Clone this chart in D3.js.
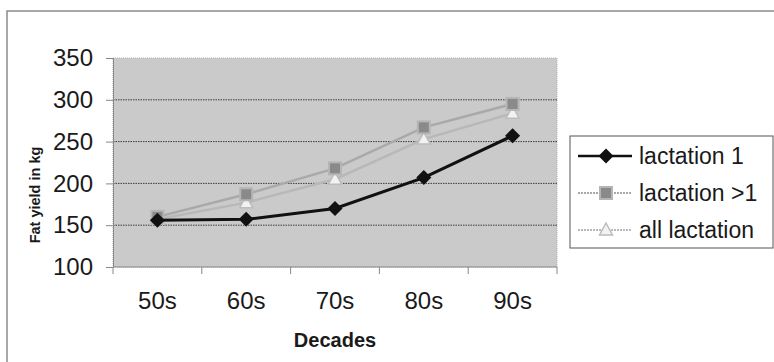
<!DOCTYPE html>
<html>
<head>
<meta charset="utf-8">
<script src="https://cdn.jsdelivr.net/npm/d3@7"></script>
<style>
  body { margin: 0; background: #ffffff; }
  svg { display: block; font-family: Arial, "Liberation Sans", sans-serif; }
</style>
</head>
<body>
<div id="chart"></div>
<script>
// Chart data
const decades = ["50s", "60s", "70s", "80s", "90s"];
const lactation1 = [156, 157, 170, 207, 257];
const lactationGt1 = [160, 187, 218, 267, 295];
const allLactation = [157, 177, 205, 253, 284];
const yTicks = [100, 150, 200, 250, 300, 350];
const seriesNames = ["lactation 1", "lactation >1", "all lactation"];

const width = 774;
const height = 362;
const plot = { left: 113, right: 557, top: 58, bottom: 267 };

const svg = d3
  .select("#chart")
  .append("svg")
  .attr("width", width)
  .attr("height", height);

// Outer chart frame (runs off the right and bottom edges)
svg
  .append("path")
  .attr("d", `M7,${height + 2} L7,11 L${width + 2},11`)
  .attr("fill", "none")
  .attr("stroke", "#8c8c8c")
  .attr("stroke-width", 1.5);

const x = d3
  .scaleBand()
  .domain(decades)
  .range([plot.left, plot.right]);

const y = d3
  .scaleLinear()
  .domain([100, 350])
  .range([plot.bottom, plot.top]);

// Grey plot area
svg
  .append("rect")
  .attr("x", plot.left)
  .attr("y", plot.top)
  .attr("width", plot.right - plot.left)
  .attr("height", plot.bottom - plot.top)
  .attr("fill", "#cacaca")
  .attr("stroke", "#b0b0b0")
  .attr("stroke-dasharray", "1 1");

// Horizontal gridlines
svg
  .append("g")
  .selectAll("line")
  .data(yTicks.filter((d) => d > 100 && d < 350))
  .enter()
  .append("line")
  .attr("x1", plot.left)
  .attr("x2", plot.right)
  .attr("y1", (d) => y(d))
  .attr("y2", (d) => y(d))
  .attr("stroke", "#3a3a3a")
  .attr("stroke-width", 1)
  .attr("stroke-dasharray", "1.5 1");

// Y axis
const yAxis = svg
  .append("g")
  .attr("transform", `translate(${plot.left},0)`)
  .call(d3.axisLeft(y).tickValues(yTicks).tickSize(7).tickPadding(13));
yAxis.select(".domain").attr("stroke", "#888");
yAxis.selectAll(".tick line").attr("stroke", "#888");
yAxis
  .selectAll("text")
  .attr("font-size", "24px")
  .attr("fill", "#1a1a1a")
  .attr("font-family", "Arial, 'Liberation Sans', sans-serif");

// X axis: ticks at category boundaries
const xAxis = svg
  .append("g")
  .attr("transform", `translate(0,${plot.bottom})`);
xAxis
  .append("line")
  .attr("x1", plot.left)
  .attr("x2", plot.right)
  .attr("stroke", "#888");
xAxis
  .selectAll("line.tick")
  .data(decades.concat([null]))
  .enter()
  .append("line")
  .attr("class", "tick")
  .attr("x1", (d) => (d ? x(d) : plot.right))
  .attr("x2", (d) => (d ? x(d) : plot.right))
  .attr("y1", 0)
  .attr("y2", 7)
  .attr("stroke", "#888");
xAxis
  .selectAll("text")
  .data(decades)
  .enter()
  .append("text")
  .attr("x", (d) => x(d) + x.bandwidth() / 2)
  .attr("y", 42)
  .attr("text-anchor", "middle")
  .attr("font-size", "24px")
  .attr("fill", "#1a1a1a")
  .text((d) => d);

// Axis titles
svg
  .append("text")
  .attr("x", 335)
  .attr("y", 347)
  .attr("text-anchor", "middle")
  .attr("font-size", "20px")
  .attr("font-weight", "bold")
  .attr("fill", "#1a1a1a")
  .text("Decades");

svg
  .append("text")
  .attr("transform", "translate(40,195) rotate(-90)")
  .attr("text-anchor", "middle")
  .attr("font-size", "14.5px")
  .attr("font-weight", "bold")
  .attr("fill", "#1a1a1a")
  .text("Fat yield in kg");

// Series styles
const series = [
  { name: seriesNames[0], values: lactation1, line: "#111111", width: 3, marker: "diamond" },
  { name: seriesNames[1], values: lactationGt1, line: "#a9a9a9", width: 2.5, marker: "square" },
  { name: seriesNames[2], values: allLactation, line: "#b8b8b8", width: 2.5, marker: "triangle" },
];

function drawMarker(g, type) {
  if (type === "diamond") {
    g.append("path")
      .attr("d", "M0,-7.5 L7.5,0 L0,7.5 L-7.5,0 Z")
      .attr("fill", "#111111");
  } else if (type === "square") {
    g.append("rect")
      .attr("x", -6)
      .attr("y", -6)
      .attr("width", 12)
      .attr("height", 12)
      .attr("fill", "#8a8a8a")
      .attr("stroke", "#b5b5b5")
      .attr("stroke-width", 2);
  } else {
    g.append("path")
      .attr("d", "M0,-7 L6.5,5 L-6.5,5 Z")
      .attr("fill", "#f2f2f2")
      .attr("stroke", "#bcbcbc")
      .attr("stroke-width", 1.5);
  }
}

const line = d3
  .line()
  .x((d, i) => x(decades[i]) + x.bandwidth() / 2)
  .y((d) => y(d));

// Draw back-to-front so lactation 1 sits on top
series
  .slice()
  .reverse()
  .forEach((s) => {
    svg
      .append("path")
      .datum(s.values)
      .attr("fill", "none")
      .attr("stroke", s.line)
      .attr("stroke-width", s.width)
      .attr("d", line);

    svg
      .selectAll(null)
      .data(s.values)
      .enter()
      .append("g")
      .attr("transform", (d, i) => `translate(${x(decades[i]) + x.bandwidth() / 2},${y(d)})`)
      .each(function () {
        drawMarker(d3.select(this), s.marker);
      });
  });

// Legend
const legend = svg.append("g");
legend
  .append("rect")
  .attr("x", 570)
  .attr("y", 136)
  .attr("width", 203)
  .attr("height", 112)
  .attr("fill", "#ffffff")
  .attr("stroke", "#555555")
  .attr("stroke-width", 1);

const legendY = d3
  .scalePoint()
  .domain(seriesNames)
  .range([156, 230]);

series.forEach((s) => {
  const ly = legendY(s.name);
  legend
    .append("line")
    .attr("x1", 578)
    .attr("x2", 632)
    .attr("y1", ly)
    .attr("y2", ly)
    .attr("stroke", s.line)
    .attr("stroke-width", s.marker === "diamond" ? 2.5 : 2)
    .attr("stroke-dasharray", s.marker === "diamond" ? null : "2 1");
  drawMarker(legend.append("g").attr("transform", `translate(606,${ly})`), s.marker);
  legend
    .append("text")
    .attr("x", 639)
    .attr("y", ly + 8)
    .attr("font-size", "23px")
    .attr("fill", "#1a1a1a")
    .text(s.name);
});
</script>
</body>
</html>
